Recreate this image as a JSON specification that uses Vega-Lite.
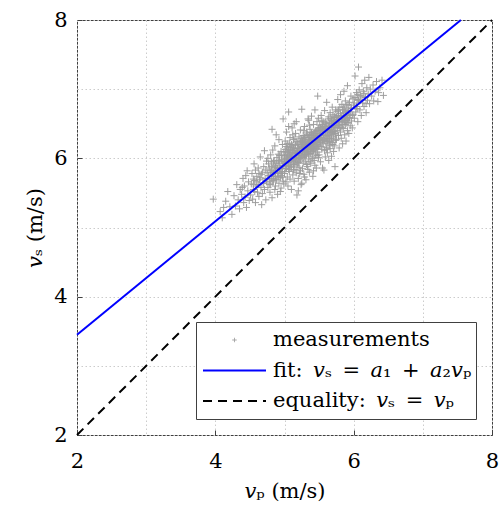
{
"$schema":"https://vega.github.io/schema/vega-lite/v6.json",
"width":415,"height":415,
"autosize":{"type":"none"},
"padding":{"left":77,"top":20,"right":10,"bottom":74},
"background":"white",
"datasets":{
"m":[
{"x":3.97,"y":5.41},{"x":4.07,"y":5.23},{"x":4.10,"y":5.14},{"x":4.15,"y":5.38},{"x":4.21,"y":5.30},{"x":4.18,"y":5.52},{"x":4.24,"y":5.19},{"x":4.12,"y":5.29},
{"x":4.27,"y":5.46},{"x":4.29,"y":5.31},{"x":4.31,"y":5.62},{"x":4.33,"y":5.40},{"x":4.35,"y":5.27},{"x":4.36,"y":5.55},{"x":4.38,"y":5.48},{"x":4.40,"y":5.71},{"x":4.41,"y":5.36},{"x":4.42,"y":5.60},{"x":4.43,"y":5.44},{"x":4.45,"y":5.29},{"x":4.46,"y":5.82},{"x":4.47,"y":5.53},{"x":4.48,"y":5.66},{"x":4.49,"y":5.39},{"x":4.44,"y":5.75},{"x":4.39,"y":5.58},
{"x":4.51,"y":5.47},{"x":4.52,"y":5.63},{"x":4.53,"y":5.78},{"x":4.54,"y":5.41},{"x":4.55,"y":5.55},{"x":4.56,"y":5.92},{"x":4.57,"y":5.68},{"x":4.58,"y":5.36},{"x":4.59,"y":5.60},{"x":4.60,"y":5.74},{"x":4.61,"y":5.51},{"x":4.62,"y":5.86},{"x":4.63,"y":5.45},{"x":4.64,"y":5.69},{"x":4.65,"y":6.02},{"x":4.66,"y":5.58},{"x":4.67,"y":5.77},{"x":4.68,"y":5.49},{"x":4.69,"y":5.64},{"x":4.70,"y":5.88},{"x":4.71,"y":5.55},{"x":4.72,"y":5.71},{"x":4.73,"y":5.40},{"x":4.74,"y":5.96},{"x":4.55,"y":5.70},{"x":4.62,"y":5.62},{"x":4.67,"y":5.33},{"x":4.71,"y":6.11},{"x":4.58,"y":5.83},{"x":4.74,"y":5.66},
{"x":4.75,"y":5.79},{"x":4.76,"y":5.58},{"x":4.77,"y":5.92},{"x":4.78,"y":5.70},{"x":4.79,"y":5.51},{"x":4.80,"y":6.05},{"x":4.81,"y":5.83},{"x":4.82,"y":6.42},{"x":4.82,"y":5.43},{"x":4.83,"y":5.66},{"x":4.84,"y":5.95},{"x":4.85,"y":5.74},{"x":4.86,"y":6.18},{"x":4.86,"y":5.55},{"x":4.87,"y":5.87},{"x":4.88,"y":5.69},{"x":4.89,"y":6.01},{"x":4.90,"y":5.78},{"x":4.90,"y":5.48},{"x":4.91,"y":5.93},{"x":4.92,"y":6.27},{"x":4.92,"y":5.64},{"x":4.93,"y":5.85},{"x":4.94,"y":5.72},{"x":4.95,"y":6.10},{"x":4.95,"y":5.57},{"x":4.96,"y":5.98},{"x":4.97,"y":5.81},{"x":4.98,"y":6.57},{"x":4.98,"y":5.67},{"x":4.99,"y":5.90},{"x":4.76,"y":6.00},{"x":4.78,"y":5.86},{"x":4.80,"y":5.62},{"x":4.83,"y":6.12},{"x":4.85,"y":5.90},{"x":4.87,"y":5.60},{"x":4.88,"y":6.34},{"x":4.91,"y":5.74},{"x":4.93,"y":6.04},{"x":4.94,"y":5.52},{"x":4.96,"y":5.80},{"x":4.97,"y":6.20},{"x":4.99,"y":5.63},{"x":4.77,"y":5.75},{"x":4.81,"y":5.95},{"x":4.84,"y":5.79},{"x":4.89,"y":5.85},{"x":4.92,"y":5.97},{"x":4.97,"y":5.89},
{"x":5.00,"y":6.02},{"x":5.00,"y":5.78},{"x":5.01,"y":6.25},{"x":5.01,"y":5.92},{"x":5.02,"y":5.66},{"x":5.02,"y":6.10},{"x":5.03,"y":5.85},{"x":5.03,"y":6.38},{"x":5.04,"y":5.99},{"x":5.04,"y":5.73},{"x":5.05,"y":6.15},{"x":5.05,"y":5.60},{"x":5.06,"y":6.67},{"x":5.06,"y":5.94},{"x":5.07,"y":6.06},{"x":5.07,"y":5.81},{"x":5.08,"y":6.30},{"x":5.08,"y":5.70},{"x":5.09,"y":6.01},{"x":5.09,"y":5.88},{"x":5.10,"y":6.20},{"x":5.10,"y":5.55},{"x":5.11,"y":5.97},{"x":5.11,"y":6.44},{"x":5.12,"y":6.09},{"x":5.12,"y":5.76},{"x":5.13,"y":5.91},{"x":5.13,"y":6.27},{"x":5.14,"y":6.03},{"x":5.14,"y":5.67},{"x":5.15,"y":6.14},{"x":5.15,"y":5.84},{"x":5.16,"y":6.36},{"x":5.16,"y":5.99},{"x":5.17,"y":6.53},{"x":5.17,"y":5.79},{"x":5.18,"y":5.47},{"x":5.18,"y":6.08},{"x":5.19,"y":6.22},{"x":5.19,"y":5.93},{"x":5.20,"y":6.04},{"x":5.20,"y":5.71},{"x":5.21,"y":6.31},{"x":5.21,"y":5.87},{"x":5.22,"y":6.12},{"x":5.22,"y":6.00},{"x":5.23,"y":5.82},{"x":5.23,"y":6.41},{"x":5.24,"y":6.06},{"x":5.24,"y":5.62},{"x":5.25,"y":6.71},{"x":5.25,"y":6.18},{"x":5.25,"y":5.64},{"x":5.01,"y":6.05},{"x":5.03,"y":6.17},{"x":5.05,"y":5.89},{"x":5.07,"y":6.22},{"x":5.09,"y":5.95},{"x":5.11,"y":6.12},{"x":5.13,"y":5.83},{"x":5.15,"y":6.28},{"x":5.17,"y":6.01},{"x":5.19,"y":6.09},{"x":5.21,"y":5.96},{"x":5.23,"y":6.24},{"x":5.02,"y":5.95},{"x":5.04,"y":6.08},{"x":5.06,"y":5.84},{"x":5.08,"y":6.13},{"x":5.10,"y":6.03},{"x":5.12,"y":6.34},{"x":5.14,"y":5.92},{"x":5.16,"y":6.19},{"x":5.18,"y":5.89},{"x":5.20,"y":6.15},{"x":5.22,"y":5.78},{"x":5.24,"y":6.29},{"x":5.06,"y":6.46},{"x":5.14,"y":6.50},{"x":5.20,"y":5.53},
{"x":5.26,"y":6.09},{"x":5.26,"y":5.85},{"x":5.27,"y":6.33},{"x":5.27,"y":6.01},{"x":5.28,"y":6.19},{"x":5.28,"y":5.77},{"x":5.29,"y":6.46},{"x":5.29,"y":6.11},{"x":5.30,"y":5.96},{"x":5.30,"y":6.25},{"x":5.31,"y":6.14},{"x":5.31,"y":5.69},{"x":5.32,"y":6.38},{"x":5.32,"y":6.05},{"x":5.33,"y":6.21},{"x":5.33,"y":5.88},{"x":5.34,"y":6.57},{"x":5.34,"y":6.12},{"x":5.35,"y":5.99},{"x":5.35,"y":6.30},{"x":5.36,"y":6.17},{"x":5.36,"y":5.80},{"x":5.37,"y":6.42},{"x":5.37,"y":6.08},{"x":5.38,"y":6.26},{"x":5.38,"y":5.93},{"x":5.39,"y":6.61},{"x":5.39,"y":6.15},{"x":5.40,"y":6.02},{"x":5.40,"y":6.35},{"x":5.41,"y":6.22},{"x":5.41,"y":5.74},{"x":5.42,"y":6.49},{"x":5.42,"y":6.11},{"x":5.43,"y":6.29},{"x":5.43,"y":5.97},{"x":5.44,"y":6.18},{"x":5.44,"y":6.70},{"x":5.45,"y":6.06},{"x":5.45,"y":6.39},{"x":5.46,"y":6.25},{"x":5.46,"y":5.86},{"x":5.47,"y":6.53},{"x":5.47,"y":6.14},{"x":5.48,"y":6.90},{"x":5.48,"y":6.32},{"x":5.49,"y":6.01},{"x":5.49,"y":6.44},{"x":5.26,"y":6.24},{"x":5.27,"y":5.93},{"x":5.28,"y":6.40},{"x":5.29,"y":6.03},{"x":5.30,"y":6.16},{"x":5.31,"y":6.31},{"x":5.32,"y":5.91},{"x":5.33,"y":6.09},{"x":5.34,"y":6.27},{"x":5.35,"y":6.13},{"x":5.36,"y":6.48},{"x":5.37,"y":5.95},{"x":5.38,"y":6.19},{"x":5.39,"y":6.37},{"x":5.40,"y":6.10},{"x":5.41,"y":6.00},{"x":5.42,"y":6.33},{"x":5.43,"y":6.13},{"x":5.44,"y":5.90},{"x":5.45,"y":6.24},{"x":5.46,"y":6.40},{"x":5.47,"y":6.04},{"x":5.48,"y":6.20},{"x":5.49,"y":6.58},{"x":5.28,"y":6.28},{"x":5.30,"y":6.05},{"x":5.32,"y":6.20},{"x":5.34,"y":5.84},{"x":5.36,"y":6.33},{"x":5.38,"y":6.07},{"x":5.40,"y":6.23},{"x":5.42,"y":5.82},{"x":5.44,"y":6.36},{"x":5.46,"y":6.17},{"x":5.48,"y":6.09},{"x":5.29,"y":5.73},{"x":5.35,"y":6.55},
{"x":5.50,"y":6.27},{"x":5.50,"y":6.05},{"x":5.51,"y":6.48},{"x":5.51,"y":6.19},{"x":5.52,"y":6.36},{"x":5.52,"y":5.95},{"x":5.53,"y":6.62},{"x":5.53,"y":6.30},{"x":5.54,"y":6.13},{"x":5.54,"y":6.44},{"x":5.55,"y":6.25},{"x":5.55,"y":5.86},{"x":5.56,"y":6.53},{"x":5.56,"y":6.21},{"x":5.57,"y":5.83},{"x":5.57,"y":6.39},{"x":5.58,"y":6.11},{"x":5.58,"y":6.69},{"x":5.59,"y":6.33},{"x":5.59,"y":6.02},{"x":5.60,"y":6.46},{"x":5.60,"y":6.16},{"x":5.61,"y":6.28},{"x":5.61,"y":6.81},{"x":5.62,"y":6.40},{"x":5.62,"y":6.08},{"x":5.63,"y":6.57},{"x":5.63,"y":6.22},{"x":5.64,"y":6.35},{"x":5.64,"y":5.97},{"x":5.65,"y":6.50},{"x":5.65,"y":6.29},{"x":5.66,"y":6.14},{"x":5.66,"y":6.66},{"x":5.67,"y":6.42},{"x":5.67,"y":6.24},{"x":5.68,"y":6.03},{"x":5.68,"y":6.55},{"x":5.69,"y":6.37},{"x":5.69,"y":6.74},{"x":5.70,"y":6.20},{"x":5.70,"y":6.48},{"x":5.71,"y":6.31},{"x":5.71,"y":6.10},{"x":5.72,"y":6.61},{"x":5.72,"y":6.39},{"x":5.73,"y":5.88},{"x":5.73,"y":6.52},{"x":5.74,"y":6.26},{"x":5.74,"y":6.70},{"x":5.50,"y":6.40},{"x":5.52,"y":6.23},{"x":5.54,"y":6.55},{"x":5.56,"y":6.34},{"x":5.58,"y":6.45},{"x":5.60,"y":6.32},{"x":5.62,"y":6.25},{"x":5.64,"y":6.60},{"x":5.66,"y":6.38},{"x":5.68,"y":6.29},{"x":5.70,"y":6.63},{"x":5.72,"y":6.18},{"x":5.74,"y":6.44},{"x":5.51,"y":6.34},{"x":5.55,"y":6.42},{"x":5.59,"y":6.52},{"x":5.63,"y":6.41},{"x":5.67,"y":6.58},{"x":5.71,"y":6.45},{"x":5.53,"y":6.17},{"x":5.57,"y":6.27},{"x":5.61,"y":6.13},{"x":5.65,"y":6.19},{"x":5.69,"y":6.23},{"x":5.73,"y":6.36},
{"x":5.75,"y":6.51},{"x":5.75,"y":6.27},{"x":5.76,"y":6.68},{"x":5.76,"y":6.40},{"x":5.77,"y":6.85},{"x":5.77,"y":6.56},{"x":5.78,"y":6.33},{"x":5.78,"y":6.62},{"x":5.79,"y":6.47},{"x":5.79,"y":6.15},{"x":5.80,"y":6.74},{"x":5.80,"y":6.53},{"x":5.81,"y":6.38},{"x":5.81,"y":6.92},{"x":5.82,"y":6.60},{"x":5.82,"y":6.29},{"x":5.83,"y":6.45},{"x":5.83,"y":6.78},{"x":5.84,"y":6.57},{"x":5.84,"y":6.21},{"x":5.85,"y":6.66},{"x":5.85,"y":6.43},{"x":5.86,"y":6.97},{"x":5.86,"y":6.55},{"x":5.87,"y":6.34},{"x":5.87,"y":6.71},{"x":5.88,"y":6.49},{"x":5.88,"y":6.83},{"x":5.89,"y":6.62},{"x":5.89,"y":6.25},{"x":5.90,"y":6.76},{"x":5.90,"y":6.51},{"x":5.91,"y":6.40},{"x":5.91,"y":7.05},{"x":5.92,"y":6.69},{"x":5.93,"y":6.58},{"x":5.93,"y":6.36},{"x":5.94,"y":6.81},{"x":5.95,"y":6.64},{"x":5.95,"y":6.47},{"x":5.96,"y":6.90},{"x":5.97,"y":6.72},{"x":5.97,"y":6.54},{"x":5.98,"y":6.44},{"x":5.99,"y":6.86},{"x":5.99,"y":6.63},{"x":5.78,"y":6.48},{"x":5.84,"y":6.70},{"x":5.88,"y":6.59},{"x":5.92,"y":6.52},
{"x":6.00,"y":6.77},{"x":6.01,"y":6.58},{"x":6.02,"y":7.19},{"x":6.02,"y":6.88},{"x":6.03,"y":6.67},{"x":6.04,"y":6.95},{"x":6.05,"y":6.72},{"x":6.06,"y":6.53},{"x":6.07,"y":7.32},{"x":6.07,"y":6.84},{"x":6.08,"y":6.99},{"x":6.09,"y":6.70},{"x":6.10,"y":6.91},{"x":6.11,"y":6.62},{"x":6.12,"y":7.08},{"x":6.13,"y":6.80},{"x":6.14,"y":6.97},{"x":6.15,"y":6.75},{"x":6.16,"y":7.13},{"x":6.17,"y":6.88},{"x":6.18,"y":6.66},{"x":6.19,"y":7.02},{"x":6.20,"y":6.84},{"x":6.21,"y":6.93},{"x":6.22,"y":7.17},{"x":6.23,"y":6.79},{"x":6.24,"y":7.00},{"x":6.05,"y":6.85},
{"x":6.26,"y":6.90},{"x":6.28,"y":7.06},{"x":6.29,"y":6.83},{"x":6.31,"y":6.97},{"x":6.33,"y":7.11},{"x":6.35,"y":6.82},{"x":6.36,"y":6.95},{"x":6.38,"y":7.02},{"x":6.41,"y":7.13},{"x":6.43,"y":6.91},
{"x":4.80,"y":5.80},{"x":4.81,"y":5.71},{"x":4.82,"y":5.88},{"x":4.83,"y":5.77},{"x":4.84,"y":5.68},{"x":4.85,"y":5.97},{"x":4.86,"y":5.82},{"x":4.87,"y":5.74},{"x":4.88,"y":5.93},{"x":4.89,"y":5.70},{"x":4.90,"y":5.86},{"x":4.91,"y":6.06},{"x":4.92,"y":5.79},{"x":4.93,"y":5.95},{"x":4.94,"y":5.86},{"x":4.95,"y":5.75},{"x":4.96,"y":6.04},{"x":4.97,"y":5.73},{"x":4.98,"y":5.96},{"x":4.99,"y":6.09},
{"x":5.00,"y":5.93},{"x":5.01,"y":6.13},{"x":5.02,"y":5.85},{"x":5.03,"y":6.00},{"x":5.04,"y":6.21},{"x":5.05,"y":5.98},{"x":5.06,"y":6.11},{"x":5.07,"y":5.90},{"x":5.08,"y":6.02},{"x":5.09,"y":6.16},{"x":5.10,"y":5.87},{"x":5.11,"y":6.05},{"x":5.12,"y":6.18},{"x":5.13,"y":5.99},{"x":5.14,"y":6.11},{"x":5.15,"y":5.95},{"x":5.16,"y":6.07},{"x":5.17,"y":6.24},{"x":5.18,"y":6.00},{"x":5.19,"y":6.14},{"x":5.20,"y":5.94},{"x":5.21,"y":6.20},{"x":5.22,"y":6.07},{"x":5.23,"y":5.99},{"x":5.24,"y":6.17},{"x":5.25,"y":6.02},{"x":5.01,"y":5.85},{"x":5.05,"y":6.04},{"x":5.09,"y":6.08},{"x":5.13,"y":6.15},{"x":5.17,"y":6.09},{"x":5.21,"y":6.04},{"x":5.25,"y":6.26},
{"x":5.26,"y":6.16},{"x":5.27,"y":6.23},{"x":5.28,"y":6.06},{"x":5.29,"y":6.30},{"x":5.30,"y":6.10},{"x":5.31,"y":6.22},{"x":5.32,"y":6.13},{"x":5.33,"y":6.35},{"x":5.34,"y":6.19},{"x":5.35,"y":6.06},{"x":5.36,"y":6.25},{"x":5.37,"y":6.15},{"x":5.38,"y":6.34},{"x":5.39,"y":6.22},{"x":5.40,"y":6.14},{"x":5.41,"y":6.30},{"x":5.42,"y":6.20},{"x":5.43,"y":6.38},{"x":5.44,"y":6.27},{"x":5.45,"y":6.15},{"x":5.46,"y":6.32},{"x":5.47,"y":6.23},{"x":5.48,"y":6.41},{"x":5.49,"y":6.27},{"x":5.27,"y":6.12},{"x":5.31,"y":6.05},{"x":5.35,"y":6.21},{"x":5.39,"y":6.28},{"x":5.43,"y":6.21},{"x":5.47,"y":6.31},{"x":5.29,"y":6.21},{"x":5.33,"y":6.15},{"x":5.37,"y":6.30},{"x":5.41,"y":6.15},{"x":5.45,"y":6.31},{"x":5.49,"y":6.17},
{"x":5.50,"y":6.33},{"x":5.51,"y":6.26},{"x":5.52,"y":6.44},{"x":5.53,"y":6.38},{"x":5.54,"y":6.28},{"x":5.55,"y":6.49},{"x":5.56,"y":6.41},{"x":5.57,"y":6.33},{"x":5.58,"y":6.26},{"x":5.59,"y":6.43},{"x":5.60,"y":6.38},{"x":5.61,"y":6.50},{"x":5.62,"y":6.33},{"x":5.63,"y":6.46},{"x":5.64,"y":6.28},{"x":5.65,"y":6.40},{"x":5.66,"y":6.51},{"x":5.67,"y":6.34},{"x":5.68,"y":6.45},{"x":5.69,"y":6.55},{"x":5.70,"y":6.39},{"x":5.71,"y":6.53},{"x":5.72,"y":6.47},{"x":5.73,"y":6.59},{"x":5.74,"y":6.35},{"x":5.52,"y":6.30},{"x":5.56,"y":6.46},{"x":5.60,"y":6.24},{"x":5.64,"y":6.47},{"x":5.68,"y":6.37},{"x":5.72,"y":6.54},
{"x":5.75,"y":6.60},{"x":5.76,"y":6.52},{"x":5.77,"y":6.45},{"x":5.78,"y":6.70},{"x":5.79,"y":6.58},{"x":5.80,"y":6.44},{"x":5.81,"y":6.65},{"x":5.82,"y":6.53},{"x":5.83,"y":6.62},{"x":5.84,"y":6.49},{"x":5.85,"y":6.74},{"x":5.86,"y":6.61},{"x":5.87,"y":6.52},{"x":5.88,"y":6.68},{"x":5.89,"y":6.55},{"x":5.90,"y":6.64},{"x":5.91,"y":6.57},{"x":5.92,"y":6.78},{"x":5.93,"y":6.67},{"x":5.94,"y":6.59},{"x":5.96,"y":6.73},{"x":5.98,"y":6.62},
{"x":4.55,"y":5.62},{"x":4.60,"y":5.66},{"x":4.65,"y":5.72},{"x":4.70,"y":5.64},{"x":4.75,"y":5.70},{"x":4.57,"y":5.52},{"x":4.63,"y":5.78},{"x":4.68,"y":5.80},{"x":4.73,"y":5.83},{"x":4.78,"y":5.63},
{"x":6.01,"y":6.80},{"x":6.04,"y":6.75},{"x":6.06,"y":6.92},{"x":6.09,"y":6.83},{"x":6.12,"y":6.89},{"x":6.15,"y":6.94},{"x":6.18,"y":6.79}
],
"fit":[{"x":2,"y":3.45},{"x":7.55,"y":8}],
"eq":[{"x":2,"y":2},{"x":8,"y":8}]
},
"config":{
"view":{"stroke":"#404040","strokeWidth":1},
"font":"DejaVu Serif",
"axis":{"grid":true,"gridColor":"#cccccc","gridDash":[1.5,2.5],"gridWidth":1,"domain":false,"tickColor":"#404040","tickSize":-5,"labelFont":"DejaVu Serif","labelFontSize":21,"labelColor":"black","labelFlush":false,"labelOverlap":false,"titleFont":"DejaVu Serif","titleFontSize":21,"titleFontWeight":"normal","titleColor":"black"}
},
"layer":[
{"data":{"name":"m"},
"mark":{"type":"point","shape":"M-1,0L1,0M0,-1L0,1","filled":false,"size":49,"strokeWidth":1,"opacity":1},
"encoding":{
"x":{"field":"x","type":"quantitative","scale":{"domain":[2,8],"nice":false,"zero":false},
"axis":{"values":[2,2.5,3,3.5,4,4.5,5,5.5,6,6.5,7,7.5,8],"format":"d","labelExpr":"datum.value % 2 == 0 ? datum.label : ''","tickOpacity":{"condition":{"test":"datum.value % 2 == 0","value":1},"value":0},"labelPadding":20,"titlePadding":9,"title":"𝑣ₚ (m/s)"}},
"y":{"field":"y","type":"quantitative","scale":{"domain":[2,8],"nice":false,"zero":false},
"axis":{"values":[2,2.5,3,3.5,4,4.5,5,5.5,6,6.5,7,7.5,8],"format":"d","labelExpr":"datum.value % 2 == 0 ? datum.label : ''","tickOpacity":{"condition":{"test":"datum.value % 2 == 0","value":1},"value":0},"labelPadding":15,"titlePadding":8,"title":"𝑣ₛ (m/s)"}},
"color":{"datum":"measurements","type":"nominal",
"scale":{"domain":["measurements","fit:\u2002𝑣ₛ\u2002=\u2002𝑎₁\u2002+\u2002𝑎₂𝑣ₚ","equality:\u2002𝑣ₛ\u2002=\u2002𝑣ₚ"],"range":["#9e9e9e","#0000ff","#000000"]},
"legend":{"orient":"bottom-right","offset":16,"title":null,"fillColor":"white","strokeColor":"#404040","padding":4,"labelFont":"DejaVu Serif","labelFontSize":21,"labelColor":"black","labelLimit":500,"clipHeight":28,"rowPadding":2.5,"symbolSize":3969,"symbolOffset":2,"labelOffset":6,"symbolStrokeWidth":2,
"encode":{"symbols":{"update":{
"shape":{"signal":"(datum.value == 'measurements' ? 'M-0.07,0L0.07,0M0,-0.07L0,0.07' : 'stroke')"},
"strokeDash":{"signal":"(indexof(datum.value,'equality') == 0 ? [9,6] : [1,0])"},
"strokeWidth":{"signal":"(datum.value == 'measurements' ? 1 : 2)"},
"fill":{"value":"transparent"}
}}}}}
}},
{"data":{"name":"fit"},
"mark":{"type":"line","strokeWidth":2},
"encoding":{"x":{"field":"x","type":"quantitative"},"y":{"field":"y","type":"quantitative"},"color":{"datum":"fit:\u2002𝑣ₛ\u2002=\u2002𝑎₁\u2002+\u2002𝑎₂𝑣ₚ","type":"nominal",
"legend":{"orient":"bottom-right","offset":16,"title":null,"fillColor":"white","strokeColor":"#404040","padding":4,"labelFont":"DejaVu Serif","labelFontSize":21,"labelColor":"black","labelLimit":500,"clipHeight":28,"rowPadding":2.5,"symbolSize":3969,"symbolOffset":2,"labelOffset":6,"symbolStrokeWidth":2,
"encode":{"symbols":{"update":{
"shape":{"signal":"(datum.value == 'measurements' ? 'M-0.07,0L0.07,0M0,-0.07L0,0.07' : 'stroke')"},
"strokeDash":{"signal":"(indexof(datum.value,'equality') == 0 ? [9,6] : [1,0])"},
"strokeWidth":{"signal":"(datum.value == 'measurements' ? 1 : 2)"},
"fill":{"value":"transparent"}
}}}}}}},
{"data":{"name":"eq"},
"mark":{"type":"line","strokeWidth":2,"strokeDash":[9,6]},
"encoding":{"x":{"field":"x","type":"quantitative"},"y":{"field":"y","type":"quantitative"},"color":{"datum":"equality:\u2002𝑣ₛ\u2002=\u2002𝑣ₚ","type":"nominal",
"legend":{"orient":"bottom-right","offset":16,"title":null,"fillColor":"white","strokeColor":"#404040","padding":4,"labelFont":"DejaVu Serif","labelFontSize":21,"labelColor":"black","labelLimit":500,"clipHeight":28,"rowPadding":2.5,"symbolSize":3969,"symbolOffset":2,"labelOffset":6,"symbolStrokeWidth":2,
"encode":{"symbols":{"update":{
"shape":{"signal":"(datum.value == 'measurements' ? 'M-0.07,0L0.07,0M0,-0.07L0,0.07' : 'stroke')"},
"strokeDash":{"signal":"(indexof(datum.value,'equality') == 0 ? [9,6] : [1,0])"},
"strokeWidth":{"signal":"(datum.value == 'measurements' ? 1 : 2)"},
"fill":{"value":"transparent"}
}}}}}}}
]
}
